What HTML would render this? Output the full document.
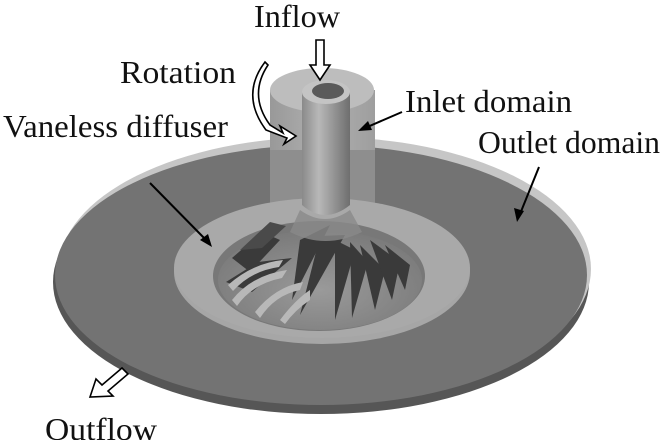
<!DOCTYPE html>
<html><head><meta charset="utf-8"><style>
html,body{margin:0;padding:0;background:#fff;}
svg{display:block;}
text{font-family:"Liberation Serif",serif;font-size:32px;fill:#111;}
</style></head><body>
<svg width="667" height="440" viewBox="0 0 667 440" xmlns="http://www.w3.org/2000/svg">
<defs>
<linearGradient id="shaft" x1="0" x2="1"><stop offset="0" stop-color="#8a8a8a"/><stop offset="0.35" stop-color="#b8b8b8"/><stop offset="1" stop-color="#6e6e6e"/></linearGradient>
<linearGradient id="outer" x1="0" x2="1"><stop offset="0" stop-color="#9a9a9a"/><stop offset="0.5" stop-color="#b4b4b4"/><stop offset="1" stop-color="#a0a0a0"/></linearGradient>
<radialGradient id="hole" cx="0.5" cy="0.6" r="0.6"><stop offset="0" stop-color="#9a9a9a"/><stop offset="1" stop-color="#7a7a7a"/></radialGradient>
</defs>
<ellipse cx="321" cy="282" rx="268" ry="132" fill="#565656"/>
<ellipse cx="325" cy="269" rx="266" ry="132" fill="#c6c6c6"/>
<ellipse cx="321" cy="275" rx="266" ry="130" fill="#737373"/>
<rect x="270" y="90" width="105" height="120" fill="#8e8e8e"/>
<ellipse cx="322" cy="272" rx="148" ry="72" fill="#a6a6a6"/>
<ellipse cx="322" cy="268" rx="148" ry="70" fill="#a9a9a9"/>
<ellipse cx="319" cy="276" rx="106" ry="55" fill="#787878"/>
<ellipse cx="320" cy="280" rx="102" ry="50" fill="url(#hole)"/>
<g fill="#3a3a3a">
<polygon points="232,258 262,232 280,240 250,272"/>
<polygon points="226,282 258,262 292,258 252,292"/>
<polygon points="240,250 270,222 286,226 262,248" fill="#4a4a4a"/>
<polygon points="300,240 330,225 292,300"/>
<polygon points="320,236 345,235 300,315"/>
<polygon points="335,240 355,250 335,320"/>
<polygon points="350,242 368,262 352,318"/>
<polygon points="360,245 385,270 375,310"/>
<polygon points="370,240 400,262 392,300"/>
<polygon points="385,245 410,265 405,290"/>
</g>
<g fill="#b8b8b8">
<path d="M232,300 q20,-25 55,-30 l-5,8 q-30,6 -45,28z"/>
<path d="M255,312 q20,-25 48,-30 l-3,8 q-25,5 -40,28z"/>
<path d="M280,320 q15,-20 30,-30 l0,10 q-15,10 -25,24z"/>
<path d="M228,285 q25,-22 55,-25 l-4,7 q-28,4 -46,24z"/>
</g>
<rect x="270" y="90" width="105" height="60" fill="url(#outer)" opacity="0.9"/>
<ellipse cx="322" cy="90" rx="52" ry="22" fill="#bdbdbd"/>
<path d="M302,92 L302,205 Q325,225 350,205 L350,92 Z" fill="url(#shaft)"/>
<ellipse cx="326" cy="92" rx="24" ry="12" fill="#c4c4c4"/>
<ellipse cx="328" cy="91" rx="16" ry="8" fill="#5a5a5a"/>
<path d="M300,210 Q325,228 350,210 L362,232 Q325,250 290,232 Z" fill="#8a8a8a" opacity="0.8"/>
<g stroke="#000" stroke-width="2" fill="none">
<line x1="402" y1="112" x2="365" y2="128"/>
<line x1="150" y1="183" x2="208" y2="242"/>
<line x1="539" y1="167" x2="520" y2="214"/>
</g>
<g fill="#000">
<polygon points="358,131 368,121 372,130"/>
<polygon points="212,247 200,240 208,234"/>
<polygon points="517,222 514,208 524,211"/>
</g>
<path d="M316,40 L324,40 L324,65 L330,65 L320,80 L310,65 L316,65 Z" fill="#fff" stroke="#000" stroke-width="1.6"/>
<path d="M122,368 L128,374 L108,391 L113,396 L90,397 L96,379 L102,385 Z" fill="#fff" stroke="#000" stroke-width="1.6"/>
<path d="M268,65 Q248,95 270,125 L283,133 L280,126 L296,136 L284,144 L287,138 L266,130 Q240,95 265,62 Z" fill="#fff" stroke="#000" stroke-width="1.6"/>
<text x="254" y="27" textLength="86" lengthAdjust="spacingAndGlyphs">Inflow</text>
<text x="120" y="83" textLength="116" lengthAdjust="spacingAndGlyphs">Rotation</text>
<text x="405" y="112" textLength="167" lengthAdjust="spacingAndGlyphs">Inlet domain</text>
<text x="3" y="137" textLength="225" lengthAdjust="spacingAndGlyphs">Vaneless diffuser</text>
<text x="478" y="153" textLength="182" lengthAdjust="spacingAndGlyphs">Outlet domain</text>
<text x="45" y="440" textLength="112" lengthAdjust="spacingAndGlyphs">Outflow</text>
</svg>
</body></html>
